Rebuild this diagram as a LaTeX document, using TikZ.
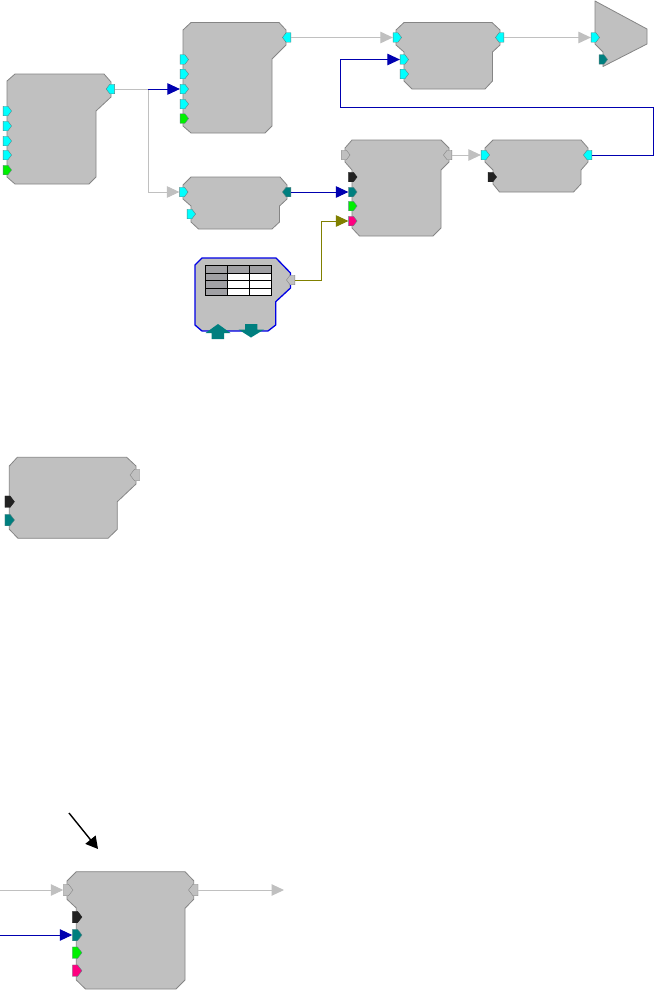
\documentclass[tikz,border=0pt]{standalone}
\usetikzlibrary{shapes.symbols,arrows.meta}
\definecolor{blockgray}{HTML}{C0C0C0}
\definecolor{edgegray}{HTML}{858585}
\definecolor{wiregray}{HTML}{C0C0C0}
\definecolor{wireblue}{HTML}{0000B0}
\definecolor{wireolive}{HTML}{808000}
\definecolor{portcyan}{HTML}{00FFFF}
\definecolor{portgreen}{HTML}{00F000}
\definecolor{portteal}{HTML}{007F7F}
\definecolor{portblack}{HTML}{222222}
\definecolor{portpink}{HTML}{FF0080}
\definecolor{headgray}{HTML}{A0A0A4}
\tikzset{
  x=1pt,y=-1pt,
  blockbody/.style={fill=blockgray,draw=edgegray,line width=0.8pt,line join=round},
  tablebody/.style={fill=blockgray,draw=blue!90!black,line width=1.3pt,line join=round},
  portbase/.style={shape=signal,signal pointer angle=105,inner sep=0pt,minimum width=8.5pt,minimum height=9.5pt,draw=edgegray!70!portteal,line width=0.4pt},
  inport/.style={portbase,signal to=east,signal from=nowhere,xshift=-1.5pt},
  outport/.style={portbase,signal to=west,signal from=nowhere,xshift=1.5pt},
  bigport/.style={minimum width=9.5pt,minimum height=11.5pt},
  cyanp/.style={fill=portcyan},
  greenp/.style={fill=portgreen},
  tealp/.style={fill=portteal},
  blackp/.style={fill=portblack,draw=portblack},
  pinkp/.style={fill=portpink},
  hollowp/.style={fill=blockgray,draw=edgegray},
  wire/.style={line width=1pt,-{Triangle[length=12.5pt,width=11.5pt]}},
  graywire/.style={wire,draw=wiregray,color=wiregray},
  bluewire/.style={wire,draw=wireblue,color=wireblue},
  olivewire/.style={wire,draw=wireolive,color=wireolive},
  plaingray/.style={line width=1pt,draw=wiregray},
  tcell/.style={draw=black,line width=0.9pt},
  tealarrow/.style={fill=portteal,draw=none},
  notearrow/.style={line width=1.4pt,draw=black,color=black,-{Triangle[length=12pt,width=13pt]}},
}
\begin{document}
\begin{tikzpicture}
\useasboundingbox (0,0) rectangle (654,990);
\fill[white] (0,0) rectangle (654,990);

% Block bodies
\draw[blockbody] (7,81)--(15,74)--(104,74)--(111,82)--(111,97)--(96,111)--(96,177)--(89,184)--(15,184)--(7,177)--cycle;
\draw[blockbody] (183,30)--(191,22.5)--(279,22.5)--(286,30)--(286,45)--(272,59)--(272,126)--(265,133)--(191,133)--(183,126)--cycle;
\draw[blockbody] (183,185)--(191,177)--(280,177)--(287,185)--(287,199)--(279.5,206)--(279.5,222)--(272,229)--(198.5,229)--(191,222)--(191,206)--(183,199)--cycle;
\draw[blockbody] (396,30)--(404,22.5)--(492,22.5)--(500,30)--(500,45)--(492.5,52)--(492.5,81)--(485,89)--(412,89)--(404,81)--(404,52)--(396,45)--cycle;
\draw[blockbody] (595,1)--(647,29)--(647,44)--(603,66.5)--(603,52)--(595,44)--cycle;
\draw[blockbody] (345,148)--(352,140)--(441,140)--(449,148)--(449,162)--(441,170)--(441,228)--(433,236)--(359.5,236)--(352,228)--(352,170)--(345,162)--cycle;
\draw[blockbody] (485,148)--(493,140)--(581,140)--(588,148)--(588,162)--(581,170)--(581,184)--(573.5,192)--(499.5,192)--(493,184)--(493,170)--(485,162)--cycle;
\draw[blockbody] (9.3,466)--(17.3,457.3)--(126.7,457.3)--(136,466)--(136,484)--(117.3,501.7)--(117.3,529.3)--(108,538.3)--(18,538.3)--(9.3,529.3)--cycle;
\draw[blockbody] (67,881)--(76.3,871.7)--(185,871.7)--(193.7,880.7)--(193.7,899.3)--(185,908.3)--(185,980)--(176,989)--(85.5,989)--(76.3,980)--(76.3,908)--(67,899.3)--cycle;

% Table block
\draw[tablebody] (195,265)--(202,258)--(276,258)--(290.5,273)--(290.5,288)--(275.7,301.7)--(275.7,325)--(268,331)--(202,331)--(195,325)--cycle;
\fill[headgray] (205.3,265.3) rectangle (271.3,273.3);
\fill[headgray] (205.3,273.3) rectangle (227.3,295.3);
\fill[white] (227.3,273.3) rectangle (271.3,295.3);
\draw[tcell] (205.3,265.3) rectangle (271.3,295.3);
\foreach \ty in {273.3,280.7,288}{\draw[tcell] (205.3,\ty)--(271.3,\ty);}
\foreach \tx in {227.3,249.3}{\draw[tcell] (\tx,265.3)--(\tx,295.3);}
\fill[tealarrow] (218,324)--(230.5,333)--(224,333)--(224,339)--(211.7,339)--(211.7,333)--(205.5,333)--cycle;
\fill[tealarrow] (251,337.5)--(264,329.5)--(257.3,329.5)--(257.3,324)--(245,324)--(245,329.5)--(238.5,329.5)--cycle;

% Ports: block A
\node[outport,cyanp] (aout) at (110.7,89) {};
\node[inport,cyanp] (a1) at (7,111) {};
\node[inport,cyanp] (a2) at (7,126) {};
\node[inport,cyanp] (a3) at (7,141) {};
\node[inport,cyanp] (a4) at (7,155) {};
\node[inport,greenp] (a5) at (7,170) {};
% block B
\node[outport,cyanp] (bout) at (287,37.5) {};
\node[inport,cyanp] (b1) at (184,59.5) {};
\node[inport,cyanp] (b2) at (184,74) {};
\node[inport,cyanp] (b3) at (184,89) {};
\node[inport,cyanp] (b4) at (184,104) {};
\node[inport,greenp] (b5) at (184,118.5) {};
% block C
\node[outport,tealp] (cout) at (287,192) {};
\node[inport,cyanp] (c1) at (183.5,192) {};
\node[inport,cyanp] (c2) at (191,214) {};
% block D
\node[outport,cyanp] (dout) at (500,37.5) {};
\node[inport,cyanp] (d1) at (397,37.5) {};
\node[inport,cyanp] (d2) at (404,59.5) {};
\node[inport,cyanp] (d3) at (404,74) {};
% block E
\node[inport,cyanp] (e1) at (595,37.5) {};
\node[inport,tealp] (e2) at (603,59.5) {};
% block F
\node[inport,hollowp] (f0) at (345.5,155) {};
\node[outport,hollowp] (fout) at (448,155) {};
\node[inport,blackp] (f1) at (352.5,177) {};
\node[inport,tealp] (f2) at (352.5,192) {};
\node[inport,greenp] (f3) at (352.5,206) {};
\node[inport,pinkp] (f4) at (352.5,221) {};
% block G
\node[inport,cyanp] (g1) at (485,155) {};
\node[outport,cyanp] (gout) at (588,155) {};
\node[inport,blackp] (g2) at (492,177) {};
% table block
\node[outport,hollowp] (hout) at (291,280) {};
% block I
\node[outport,hollowp,bigport] (iout) at (135.5,475) {};
\node[inport,blackp,bigport] (i1) at (9,501.7) {};
\node[inport,tealp,bigport] (i2) at (9,520) {};
% block J
\node[inport,hollowp,bigport] (j0) at (67.5,890) {};
\node[outport,hollowp,bigport] (jout) at (194,890) {};
\node[inport,blackp,bigport] (j1) at (76.5,917) {};
\node[inport,tealp,bigport] (j2) at (76.5,935) {};
\node[inport,greenp,bigport] (j3) at (76.5,952.7) {};
\node[inport,pinkp,bigport] (j4) at (76.5,970.7) {};

% Connectors
\coordinate (split) at (148,89);
\coordinate (cbend) at (148,192);
\coordinate (rtop) at (653,107);
\coordinate (rbot) at (653,155);
\coordinate (ltop) at (340,107);
\coordinate (lbot) at (340,59.5);
\coordinate (obot) at (321,280);
\coordinate (otop) at (321,221);
\coordinate (jinA) at (0,890);
\coordinate (jinB) at (0,935);
\coordinate (joutend) at (284,890);
\coordinate (noteA) at (69,813);
\coordinate (noteB) at (98,849);

\draw[plaingray] (aout.east) -- (split);
\draw[graywire] (split) -- (cbend) -- (c1.west);
\draw[bluewire] (split) -- (b3.west);
\draw[graywire] (bout.east) -- (d1.west);
\draw[graywire] (dout.east) -- (e1.west);
\draw[bluewire] (cout.east) -- (f2.west);
\draw[graywire] (fout.east) -- (g1.west);
\draw[bluewire] (gout.east) -- (rbot) -- (rtop) -- (ltop) -- (lbot) -- (d2.west);
\draw[olivewire] (hout.east) -- (obot) -- (otop) -- (f4.west);
\draw[graywire] (jinA) -- (j0.west);
\draw[bluewire] (jinB) -- (j2.west);
\draw[graywire] (jout.east) -- (joutend);
\draw[notearrow] (noteA) -- (noteB);
\end{tikzpicture}
\end{document}
